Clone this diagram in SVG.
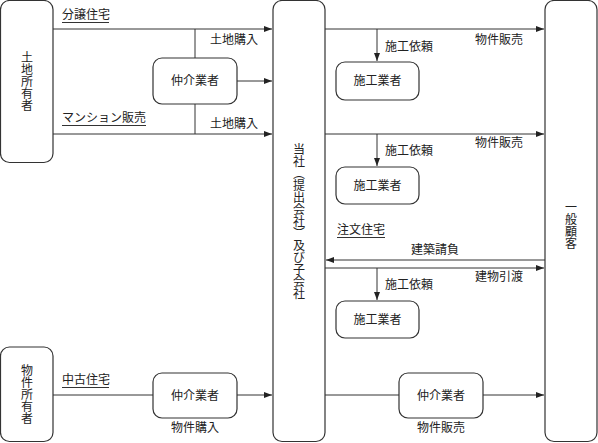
<svg xmlns="http://www.w3.org/2000/svg" width="598" height="443" viewBox="0 0 598 443">
<style>
.n{fill:#fff;stroke:#333;stroke-width:1.2}
.c{fill:none;stroke:#333;stroke-width:1}
text{font-family:"Noto Sans CJK JP","Liberation Serif",sans-serif;font-size:12px;fill:#222}
.m{text-anchor:middle}
.v{writing-mode:vertical-rl;text-anchor:middle;text-orientation:upright}
.u{stroke:#333;stroke-width:1}
</style>
<defs>
<marker id="a" viewBox="0 0 8 6" refX="8" refY="3" markerWidth="8" markerHeight="6" orient="auto" markerUnits="userSpaceOnUse">
<path d="M0,0 L8,3 L0,6 z" fill="#222"/>
</marker>
</defs>
<g id="connectors">
<path class="c" d="M53,29 H272" marker-end="url(#a)"/>
<path class="c" d="M195,29 V58"/>
<path class="c" d="M237,81 H272" marker-end="url(#a)"/>
<path class="c" d="M195,104 V134"/>
<path class="c" d="M53,134 H272" marker-end="url(#a)"/>
<path class="c" d="M325,29 H544" marker-end="url(#a)"/>
<path class="c" d="M377,29 V61" marker-end="url(#a)"/>
<path class="c" d="M325,134 H544" marker-end="url(#a)"/>
<path class="c" d="M377,134 V166" marker-end="url(#a)"/>
<path class="c" d="M545,260 H326" marker-end="url(#a)"/>
<path class="c" d="M325,268 H544" marker-end="url(#a)"/>
<path class="c" d="M377,268 V300" marker-end="url(#a)"/>
<path class="c" d="M53,395 H153"/>
<path class="c" d="M237,395 H272" marker-end="url(#a)"/>
<path class="c" d="M325,395 H399"/>
<path class="c" d="M483,395 H544" marker-end="url(#a)"/>
<text x="62" y="19">分譲住宅</text><line class="u" x1="62" y1="22.5" x2="109" y2="22.5"/>
<text x="210" y="44">土地購入</text>
<text x="62" y="122">マンション販売</text><line class="u" x1="62" y1="125.5" x2="146" y2="125.5"/>
<text x="210" y="128">土地購入</text>
<text x="475" y="44">物件販売</text>
<text x="385" y="51">施工依頼</text>
<text x="475" y="147">物件販売</text>
<text x="385" y="155">施工依頼</text>
<text x="337" y="234">注文住宅</text><line class="u" x1="337" y1="237.5" x2="385" y2="237.5"/>
<text class="m" x="435" y="254">建築請負</text>
<text x="475" y="281">建物引渡</text>
<text x="385" y="289">施工依頼</text>
<text x="62" y="384">中古住宅</text><line class="u" x1="62" y1="387.5" x2="109" y2="387.5"/>
<text class="m" x="195" y="432">物件購入</text>
<text class="m" x="441" y="432">物件販売</text>
</g>
<g id="landowner"><rect class="n" x="0.5" y="0.5" width="52.5" height="162" rx="9"/><text class="v" x="27" y="81.5">土地所有者</text></g>
<g id="company"><rect class="n" x="273" y="0.5" width="52" height="441" rx="9"/><text class="v" x="299" y="221">当社（提出会社）及び子会社</text></g>
<g id="customer"><rect class="n" x="545" y="0.5" width="52" height="441" rx="9"/><text class="v" x="571" y="225">一般顧客</text></g>
<g id="propowner"><rect class="n" x="0.5" y="347" width="52.5" height="94.5" rx="9"/><text class="v" x="27" y="394">物件所有者</text></g>
<g id="broker1"><rect class="n" x="153" y="58" width="84" height="46" rx="9"/><text class="m" x="195" y="85">仲介業者</text></g>
<g id="contractor1"><rect class="n" x="336" y="62" width="83" height="38" rx="9"/><text class="m" x="377.5" y="85">施工業者</text></g>
<g id="contractor2"><rect class="n" x="336" y="167" width="83" height="37" rx="9"/><text class="m" x="377.5" y="190">施工業者</text></g>
<g id="contractor3"><rect class="n" x="336" y="301" width="83" height="37" rx="9"/><text class="m" x="377.5" y="324">施工業者</text></g>
<g id="broker2"><rect class="n" x="153" y="373" width="84" height="45" rx="9"/><text class="m" x="195" y="400">仲介業者</text></g>
<g id="broker3"><rect class="n" x="399" y="373" width="84" height="45" rx="9"/><text class="m" x="441" y="400">仲介業者</text></g>
</svg>
